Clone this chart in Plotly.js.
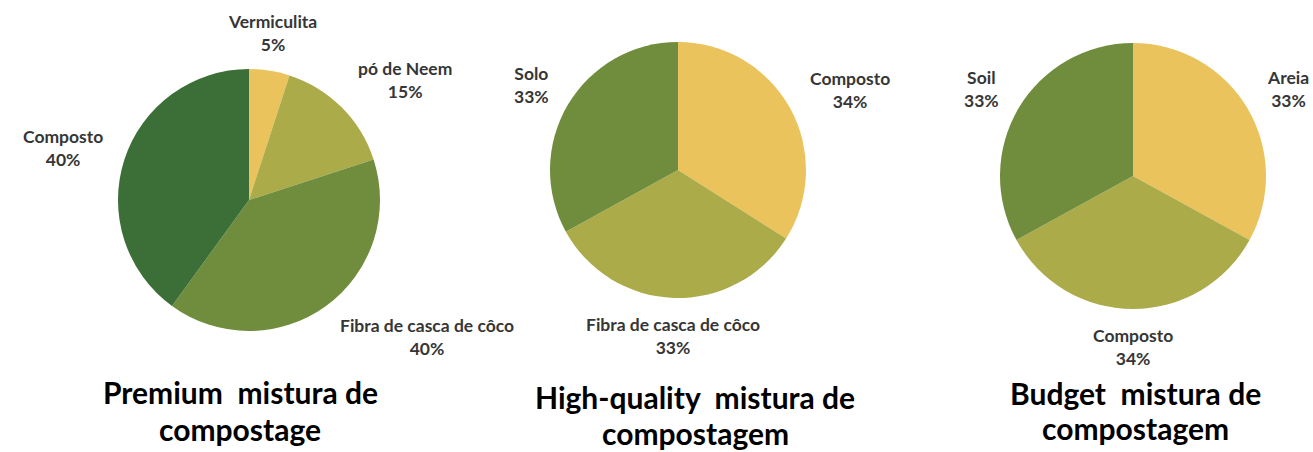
<!DOCTYPE html>
<html>
<head>
<meta charset="utf-8">
<script src="https://cdn.plot.ly/plotly-3.0.1.min.js"></script>
<style>html,body{margin:0;padding:0;background:#fff;}#chart{width:1313px;height:452px;}</style>
</head>
<body>
<div id="chart"></div>
<script>
// Data
const premiumLabels = ["Vermiculita", "pó de Neem", "Fibra de casca de côco", "Composto"];
const premiumValues = [5, 15, 40, 40];
const highLabels = ["Composto", "Fibra de casca de côco", "Solo"];
const highValues = [34, 33, 33];
const budgetLabels = ["Areia", "Composto", "Soil"];
const budgetValues = [33, 34, 33];
const titleLines1 = ["Premium  mistura de", "High-quality  mistura de", "Budget  mistura de"];
const titleLines2 = ["compostage", "compostagem", "compostagem"];

const YELLOW = "#EBC35C", OLIVE = "#ABAB4A", GREEN = "#6F8D3C", DARK = "#3C6F37";

const W = 1313, H = 452;
// pie geometry in pixels (center x, center y, radius)
const geoms = [[249, 200, 131], [678, 170, 128], [1133, 176, 133]];
function dom(g) {
  const [cx, cy, r] = g;
  return { x: [(cx - r) / W, (cx + r) / W], y: [1 - (cy + r) / H, 1 - (cy - r) / H] };
}

const labelFont = { family: "Lato, 'Open Sans', sans-serif", size: 17.5, color: "#363636", weight: 700 };

function pie(labels, values, colors, g) {
  return {
    type: "pie",
    labels: labels,
    values: values,
    sort: false,
    direction: "clockwise",
    rotation: 0,
    marker: { colors: colors, line: { width: 0 } },
    textinfo: "none",
    hoverinfo: "label+value",
    domain: dom(g),
    showlegend: false
  };
}

const series = [
  [premiumLabels, premiumValues, [YELLOW, OLIVE, GREEN, DARK]],
  [highLabels, highValues, [YELLOW, OLIVE, GREEN]],
  [budgetLabels, budgetValues, [YELLOW, OLIVE, GREEN]]
];

const data = series.map((s, i) => pie(s[0], s[1], s[2], geoms[i]));

const annotations = [];
// outside data labels, placed at each slice's mid angle
series.forEach((s, i) => {
  const [labels, values] = s;
  const [cx, cy, r] = geoms[i];
  const total = values.reduce((a, b) => a + b, 0);
  let cum = 0;
  values.forEach((v, j) => {
    const mid = (cum + v / 2) / total * 2 * Math.PI;
    cum += v;
    const sn = Math.sin(mid), cs = Math.cos(mid);
    const rr = r + 20;
    const px = cx + rr * sn;
    const py = cy - rr * cs - cs * 18;
    annotations.push({
      text: labels[j] + "<br>" + v + "%",
      x: px / W, y: 1 - py / H,
      xref: "paper", yref: "paper",
      xanchor: sn > 0.3 ? "left" : (sn < -0.3 ? "right" : "center"),
      yanchor: "middle",
      showarrow: false, align: "center",
      font: labelFont
    });
  });
});

const titleFont = { family: "Lato, 'Open Sans', sans-serif", size: 30, color: "#000", weight: 700 };
const titleX = [240, 695, 1135];
const titleY1 = [392, 397, 393];
const titleY2 = [429, 433, 428];
titleX.forEach((tx, i) => {
  [[titleLines1[i], titleY1[i]], [titleLines2[i], titleY2[i]]].forEach(([t, ty]) => {
    annotations.push({
      text: t, x: tx / W, y: 1 - ty / H,
      xref: "paper", yref: "paper",
      xanchor: "center", yanchor: "middle",
      showarrow: false, font: titleFont
    });
  });
});

const layout = {
  width: W, height: H,
  margin: { l: 0, r: 0, t: 0, b: 0 },
  paper_bgcolor: "#fff",
  plot_bgcolor: "#fff",
  annotations: annotations
};

Plotly.newPlot("chart", data, layout, { displayModeBar: false, staticPlot: true });
</script>
</body>
</html>
